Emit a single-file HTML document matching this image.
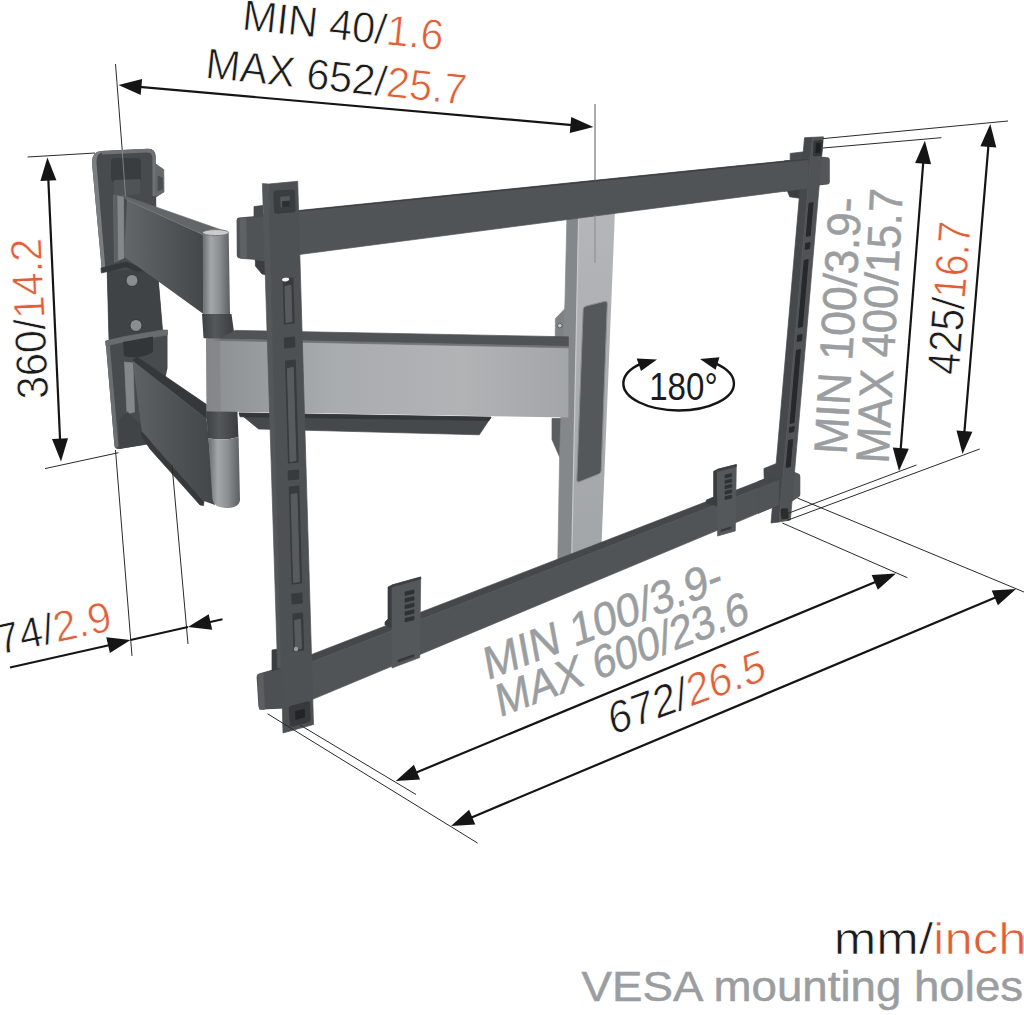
<!DOCTYPE html>
<html lang="en">
<head>
<meta charset="utf-8">
<title>TV wall mount dimensions</title>
<style>
html,body{margin:0;padding:0;background:#fff;}
body{width:1024px;height:1015px;overflow:hidden;font-family:"Liberation Sans",sans-serif;}
svg{display:block;}
text{font-family:"Liberation Sans",sans-serif;}
.k,.o{stroke:#fff;stroke-width:0.7px;}
.k,.kb{fill:#1b1b1b;}
.o{fill:#df6038;}
.g{fill:#9b9ea1;stroke:#9b9ea1;stroke-width:0.5px;}
.ext{stroke:#2a2a2a;stroke-width:1;fill:none;}
.dim{stroke:#151515;stroke-width:2.2;fill:none;}
.ah{fill:#151515;}
</style>
</head>
<body>
<svg width="1024" height="1015" viewBox="0 0 1024 1015">
<defs>
<linearGradient id="gArm" x1="0" y1="0" x2="1" y2="0">
<stop offset="0" stop-color="#8c8f92"/><stop offset="0.35" stop-color="#a9acae"/><stop offset="0.7" stop-color="#b1b3b5"/><stop offset="1" stop-color="#a3a6a8"/>
</linearGradient>
<linearGradient id="gCyl" x1="0" y1="0" x2="1" y2="0">
<stop offset="0" stop-color="#6a6d70"/><stop offset="0.3" stop-color="#a4a7a9"/><stop offset="0.6" stop-color="#8e9193"/><stop offset="1" stop-color="#5c5f62"/>
</linearGradient>
<linearGradient id="gCol" x1="0" y1="0" x2="1" y2="0">
<stop offset="0" stop-color="#3e4144"/><stop offset="0.4" stop-color="#55585b"/><stop offset="1" stop-color="#3a3d40"/>
</linearGradient>
<linearGradient id="gColF" x1="0" y1="0" x2="0" y2="1">
<stop offset="0" stop-color="#b4b6b8"/><stop offset="1" stop-color="#a2a5a7"/>
</linearGradient>
<linearGradient id="gUA" gradientUnits="userSpaceOnUse" x1="124" y1="0" x2="204" y2="0">
<stop offset="0" stop-color="#64676a"/><stop offset="0.5" stop-color="#54575a"/><stop offset="1" stop-color="#44474a"/>
</linearGradient>
<linearGradient id="gLA" gradientUnits="userSpaceOnUse" x1="132" y1="0" x2="214" y2="0">
<stop offset="0" stop-color="#5f6265"/><stop offset="0.5" stop-color="#505356"/><stop offset="1" stop-color="#434649"/>
</linearGradient>
</defs>
<rect width="1024" height="1015" fill="#fff"/>

<!-- GEOMETRY -->
<g id="geom">
<path d="M92,163 Q91.5,152 101,151 L148,148.8 Q155,148.6 155.6,156 L157,262 L162.5,330 L167.5,330 L167.5,368 L151,443.6 L119,449 Q115,449.6 114.4,445 L105.6,341 L109,340 L107.2,271.5 L102,272 Z" fill="#484b4e"/>
<path d="M92,163 Q91.5,152 101,151 L104,151.5 Q96,153 96.5,163 L105.6,271.6 L102,272 Z" fill="#7b7e81"/>
<path d="M105.6,341 L109.4,340.4 L118.5,446 L115.5,448.5 Q114.5,448 114.4,445 Z" fill="#6c6f72"/>
<polygon points="107.2,271.5 157.2,268.0 162.5,330.0 109.0,340.0" fill="#404346" stroke="#404346" stroke-width="0.7" stroke-linejoin="round"/>
<path d="M101,151 L148,148.8 Q155,148.6 155.6,156 L155.8,196 L152.6,196 L152.4,158 Q152,152.5 147,152.6 L102,154.4 Z" fill="#6f7275"/>
<polygon points="155.8,164.0 163.8,169.5 164.0,192.0 156.0,197.0" fill="#66696c" stroke="#66696c" stroke-width="0.7" stroke-linejoin="round"/>
<polygon points="158.0,176.0 162.5,178.0 162.6,189.0 158.0,191.0" fill="#4a4d50" stroke="#4a4d50" stroke-width="0.7" stroke-linejoin="round"/>
<rect x="111" y="158" width="30" height="24" rx="4" fill="#3a3d40"/>
<path d="M114,180 L140,179 L140,193 Q127,198 114,194 Z" fill="#505356"/>
<polygon points="113.8,195.0 123.5,197.0 124.0,258.0 114.6,262.0" fill="#85888b" stroke="#85888b" stroke-width="0.7" stroke-linejoin="round"/>
<polygon points="113.8,195.0 117.0,195.6 117.8,261.0 114.6,262.0" fill="#5e6164" stroke="#5e6164" stroke-width="0.7" stroke-linejoin="round"/>
<polygon points="101.0,268.0 126.0,262.0 137.0,266.0 157.2,266.0 157.4,271.0 136.0,271.0 126.0,267.0 101.4,273.0" fill="#35383a" stroke="#35383a" stroke-width="0.7" stroke-linejoin="round"/>
<circle cx="132" cy="280.5" r="6" fill="#8b8e90"/><circle cx="132" cy="280.5" r="6" fill="none" stroke="#35383a" stroke-width="1"/>
<circle cx="136" cy="325.5" r="6" fill="#8b8e90"/><circle cx="136" cy="325.5" r="6" fill="none" stroke="#35383a" stroke-width="1"/>
<polygon points="105.6,341.0 122.0,337.0 162.6,330.0 167.5,330.0 167.5,335.0 123.0,342.0 106.0,346.0" fill="#696c6f" stroke="#696c6f" stroke-width="0.7" stroke-linejoin="round"/>
<path d="M123,342 L153,336.5 L153,352 Q140,360 124,356 Z" fill="#333638"/>
<polygon points="124.5,362.0 133.0,363.0 134.5,412.0 127.0,414.0" fill="#85888b" stroke="#85888b" stroke-width="0.7" stroke-linejoin="round"/>
<polygon points="127.5,412.0 142.0,426.0 150.6,443.6 120.0,448.4 119.0,420.0" fill="#414447" stroke="#414447" stroke-width="0.7" stroke-linejoin="round"/>
<polygon points="137.0,357.0 206.6,404.5 206.6,419.0 132.5,360.4" fill="#35383b" stroke="#35383b" stroke-width="0.7" stroke-linejoin="round"/>
<polygon points="132.5,360.4 206.6,418.7 215.0,505.0 204.0,501.0 142.0,432.0" fill="url(#gLA)" />
<polygon points="142.0,432.0 204.0,501.0 203.5,505.5 200.0,505.0 150.0,449.0 141.5,436.0" fill="#36393c" stroke="#36393c" stroke-width="0.7" stroke-linejoin="round"/>
<polygon points="121.5,195.0 225.6,231.4 203.5,235.0 127.0,200.0" fill="#636669" stroke="#636669" stroke-width="0.7" stroke-linejoin="round"/>
<polygon points="127.0,200.0 203.5,234.6 203.5,314.0 137.0,266.0 124.0,257.0" fill="url(#gUA)" />
<polyline points="127,200 203.5,234.8" stroke="#777a7d" stroke-width="1" fill="none"/>
<path d="M202.7,233 L228.7,233 L230,314 L203.2,314 Z" fill="url(#gCyl)"/>
<ellipse cx="215.7" cy="232.6" rx="13" ry="3" fill="#c9cbcd"/>
<ellipse cx="215.7" cy="232.6" rx="13" ry="3" fill="none" stroke="#6a6d70" stroke-width="0.8"/>
<path d="M202,314 L231.5,314 L234.5,336 Q219,342 203.5,338 Z" fill="url(#gCol)"/>
<path d="M206.6,411 L237.4,411 L238.4,437 Q223,441.5 207.6,438 Z" fill="url(#gCol)"/>
<path d="M208.4,438 Q223,441.5 238.6,437 L240,500 Q239,508 226,508 Q213.5,507.5 212.4,499 Z" fill="url(#gCyl)"/>
<polygon points="566.6,307.0 555.4,318.5 555.2,340.0 567.6,341.0" fill="#7f8285" stroke="#7f8285" stroke-width="0.7" stroke-linejoin="round"/>
<circle cx="559.8" cy="325.6" r="2.3" fill="#c4c6c8" stroke="#4a4d50" stroke-width="0.8"/>
<polygon points="552.0,418.5 568.0,418.5 568.0,460.0 559.6,457.0 552.0,439.6" fill="#5b5e61" stroke="#5b5e61" stroke-width="0.7" stroke-linejoin="round"/>
<polygon points="567.0,214.0 578.6,212.0 571.8,560.0 557.8,560.0 559.6,457.0 565.0,300.0" fill="#85888b" stroke="#85888b" stroke-width="0.7" stroke-linejoin="round"/>
<polygon points="239.0,413.0 491.0,417.2 479.3,434.8 258.6,429.0" fill="#46494c" stroke="#46494c" stroke-width="0.7" stroke-linejoin="round"/>
<polygon points="239.0,413.0 491.0,417.2 489.0,420.5 240.0,416.8" fill="#34373a" stroke="#34373a" stroke-width="0.7" stroke-linejoin="round"/>
<path d="M206,338.5 L568.4,346 L568.4,417.6 L206.6,411.3 Z" fill="url(#gArm)"/>
<polygon points="235.0,330.4 568.4,336.8 568.4,346.4 219.5,339.0" fill="#505356" stroke="#505356" stroke-width="0.7" stroke-linejoin="round"/>
<polygon points="219.5,339.0 568.4,346.4 568.4,347.8 214.0,340.4" fill="#707376" stroke="#707376" stroke-width="0.7" stroke-linejoin="round"/>
<path d="M206,338.5 L220,338.8 L220.6,411.6 L206.6,411.3 Z" fill="#7d8083" opacity="0.55"/>
<polygon points="578.6,210.0 615.2,206.0 601.4,548.0 571.6,562.0" fill="url(#gColF)" />
<polyline points="578.6,218 571.7,560" stroke="#c6c8ca" stroke-width="1.2" fill="none"/>
<path d="M586.2,306 L604.6,301.4 Q607.4,300.8 607.3,303.6 L601.2,470.6 Q601.1,473.4 598.4,474.2 L579.4,481.8 Q576.6,482.8 576.8,480 L583.2,309 Q583.3,306.8 586.2,306 Z" fill="#55585b" stroke="#8b8e91" stroke-width="1"/>
<polygon points="255.0,214.9 808.0,158.6 808.0,188.2 255.0,260.3" fill="#505457" stroke="#505457" stroke-width="0.7" stroke-linejoin="round"/>
<polyline points="298,211.1 808,159.2" stroke="#3e4144" stroke-width="1.4" fill="none"/>
<polygon points="300.0,659.0 778.0,473.9 778.0,480.6 300.0,666.4" fill="#45484b" stroke="#45484b" stroke-width="0.7" stroke-linejoin="round"/>
<polygon points="300.0,666.4 778.0,480.6 778.0,505.0 300.0,704.6" fill="#505457" stroke="#505457" stroke-width="0.7" stroke-linejoin="round"/>
<polygon points="388.0,587.0 392.0,585.0 392.0,628.0 385.0,625.0 385.0,622.0 388.0,619.0" fill="#3a3d40" stroke="#3a3d40" stroke-width="0.7" stroke-linejoin="round"/><polygon points="392.0,585.0 420.7,577.0 419.7,657.6 392.0,668.0" fill="#55585b" stroke="#55585b" stroke-width="0.7" stroke-linejoin="round"/><polygon points="392.0,585.0 420.7,577.0 420.7,579.0 392.0,587.0" fill="#3d4043" stroke="#3d4043" stroke-width="0.7" stroke-linejoin="round"/>
<polygon points="405.0,592.0 414.0,589.8 414.0,593.4 405.0,595.6" fill="#2f3235" stroke="#2f3235" stroke-width="0.7" stroke-linejoin="round"/>
<polygon points="405.0,598.6 414.0,596.4 414.0,600.0 405.0,602.2" fill="#2f3235" stroke="#2f3235" stroke-width="0.7" stroke-linejoin="round"/>
<polygon points="405.0,605.2 414.0,603.0 414.0,606.6 405.0,608.8" fill="#2f3235" stroke="#2f3235" stroke-width="0.7" stroke-linejoin="round"/>
<polygon points="405.0,611.8 414.0,609.6 414.0,613.2 405.0,615.4" fill="#2f3235" stroke="#2f3235" stroke-width="0.7" stroke-linejoin="round"/>
<polygon points="405.0,618.4 414.0,616.2 414.0,619.8 405.0,622.0" fill="#2f3235" stroke="#2f3235" stroke-width="0.7" stroke-linejoin="round"/>
<polygon points="398.0,660.0 414.0,654.6 414.0,656.6 398.0,662.0" fill="#35383b" stroke="#35383b" stroke-width="0.7" stroke-linejoin="round"/>
<polygon points="713.6,471.3 717.6,469.3 717.6,506.0 706.4,503.0 706.4,500.0 713.6,497.0" fill="#3a3d40" stroke="#3a3d40" stroke-width="0.7" stroke-linejoin="round"/><polygon points="717.6,469.3 736.3,464.6 735.3,530.9 717.6,536.0" fill="#55585b" stroke="#55585b" stroke-width="0.7" stroke-linejoin="round"/><polygon points="717.6,469.3 736.3,464.6 736.3,466.6 717.6,471.3" fill="#3d4043" stroke="#3d4043" stroke-width="0.7" stroke-linejoin="round"/>
<polygon points="725.0,475.0 731.7,473.5 731.7,476.5 725.0,478.0" fill="#2f3235" stroke="#2f3235" stroke-width="0.7" stroke-linejoin="round"/>
<polygon points="725.0,480.4 731.7,478.9 731.7,481.9 725.0,483.4" fill="#2f3235" stroke="#2f3235" stroke-width="0.7" stroke-linejoin="round"/>
<polygon points="725.0,485.8 731.7,484.3 731.7,487.3 725.0,488.8" fill="#2f3235" stroke="#2f3235" stroke-width="0.7" stroke-linejoin="round"/>
<polygon points="725.0,491.2 731.7,489.7 731.7,492.7 725.0,494.2" fill="#2f3235" stroke="#2f3235" stroke-width="0.7" stroke-linejoin="round"/>
<polygon points="725.0,496.6 731.7,495.1 731.7,498.1 725.0,499.6" fill="#2f3235" stroke="#2f3235" stroke-width="0.7" stroke-linejoin="round"/>
<polygon points="721.0,530.0 731.0,526.8 731.0,528.4 721.0,531.6" fill="#35383b" stroke="#35383b" stroke-width="0.7" stroke-linejoin="round"/>
<path d="M239,217.6 L269,214.8 L270.4,261.4 L240.6,258.6 Q236.8,258.2 236.8,255 L236.6,220.4 Q236.6,217.9 239,217.6 Z" fill="#505356"/>
<polygon points="240.0,219.0 246.0,218.4 246.6,258.8 240.6,258.2" fill="#5f6265" stroke="#5f6265" stroke-width="0.7" stroke-linejoin="round"/>
<polygon points="254.0,206.6 263.0,205.4 263.0,216.0 254.0,217.0" fill="#484b4e" stroke="#484b4e" stroke-width="0.7" stroke-linejoin="round"/>
<polygon points="255.4,260.0 271.0,261.6 272.0,276.0 262.0,274.0 255.4,266.0" fill="#3b3e41" stroke="#3b3e41" stroke-width="0.7" stroke-linejoin="round"/>
<path d="M259,673.4 L285,666 L285.4,708.4 L262,709.6 Q258.6,709.6 258.4,706 L256.6,677 Q256.6,674.2 259,673.4 Z" fill="#4d5053"/>
<polygon points="272.0,650.0 284.5,648.0 285.0,667.0 272.0,671.0" fill="#3b3e41" stroke="#3b3e41" stroke-width="0.7" stroke-linejoin="round"/>
<polygon points="258.0,675.0 263.0,673.6 264.6,709.4 259.6,709.4" fill="#5c5f62" stroke="#5c5f62" stroke-width="0.7" stroke-linejoin="round"/>
<polygon points="262.4,183.6 268.7,184.0 282.7,668.0 277.6,668.0" fill="#54575a" stroke="#54575a" stroke-width="0.7" stroke-linejoin="round"/>
<polygon points="268.7,184.0 297.7,181.3 313.5,724.5 283.0,733.0" fill="#4e5154" stroke="#4e5154" stroke-width="0.7" stroke-linejoin="round"/>
<path d="M276,190.6 L292,189.4 Q295,189.2 295.1,192 L295.6,209.6 Q295.7,212.4 292.8,212.6 L277.2,213.8 Q274.2,214 274.1,211.2 L273.3,193.6 Q273.2,190.8 276,190.6 Z" fill="#3a3d40"/>
<polygon points="280.6,197.0 289.4,196.4 289.8,206.4 281.0,207.0" fill="#55585b" stroke="#55585b" stroke-width="0.7" stroke-linejoin="round"/>
<polygon points="282.4,201.6 289.6,201.0 289.8,206.4 282.6,207.0" fill="#2d3032" stroke="#2d3032" stroke-width="0.7" stroke-linejoin="round"/>
<polygon points="283.7,279.6 292.4,278.4 293.7,322.4 284.9,323.6" fill="#383b3e" stroke="#383b3e" stroke-width="2" stroke-linejoin="round"/>
<polygon points="284.8,338.6 294.1,337.4 294.4,346.4 285.1,347.6" fill="#383b3e" stroke="#383b3e" stroke-width="2" stroke-linejoin="round"/>
<polygon points="286.0,361.6 294.8,360.4 297.7,461.4 289.0,462.6" fill="#383b3e" stroke="#383b3e" stroke-width="2" stroke-linejoin="round"/>
<polygon points="288.6,471.6 298.0,470.4 298.2,478.4 288.9,479.6" fill="#383b3e" stroke="#383b3e" stroke-width="2" stroke-linejoin="round"/>
<polygon points="289.7,487.6 298.4,486.4 301.2,582.4 292.5,583.6" fill="#383b3e" stroke="#383b3e" stroke-width="2" stroke-linejoin="round"/>
<polygon points="292.2,594.6 301.5,593.4 301.8,602.4 292.5,603.6" fill="#383b3e" stroke="#383b3e" stroke-width="2" stroke-linejoin="round"/>
<polygon points="293.4,614.6 302.1,613.4 303.2,649.4 294.4,650.6" fill="#383b3e" stroke="#383b3e" stroke-width="2" stroke-linejoin="round"/>
<polygon points="285.0,286.6 290.9,285.4 291.9,321.4 286.1,322.6" fill="#585b5e" stroke="#585b5e" stroke-width="1" stroke-linejoin="round"/>
<polygon points="287.4,368.6 293.2,367.4 295.9,460.4 290.1,461.6" fill="#585b5e" stroke="#585b5e" stroke-width="1" stroke-linejoin="round"/>
<polygon points="291.1,494.6 296.9,493.4 299.4,581.4 293.6,582.6" fill="#585b5e" stroke="#585b5e" stroke-width="1" stroke-linejoin="round"/>
<polygon points="294.7,620.6 300.5,619.4 301.4,648.4 295.6,649.6" fill="#585b5e" stroke="#585b5e" stroke-width="1" stroke-linejoin="round"/>
<ellipse cx="285.6" cy="279.6" rx="3.6" ry="1.8" fill="#f4f4f4" transform="rotate(-8 285.6 279.6)"/>
<circle cx="296" cy="649" r="2.2" fill="#9a9da0"/>
<path d="M291.6,705.4 L307,701.4 Q309.9,700.7 310,703.6 L310.8,719 Q310.9,721.6 308.2,722.4 L293,726.6 Q290,727.4 289.8,724.4 L288.8,709 Q288.7,706.2 291.6,705.4 Z" fill="#37393c"/>
<polygon points="295.4,711.4 304.4,709.0 304.8,717.0 295.8,719.6" fill="#222426" stroke="#222426" stroke-width="0.7" stroke-linejoin="round"/>
<polygon points="790.2,153.4 806.0,151.6 806.0,162.0 790.2,164.0" fill="#484b4e" stroke="#484b4e" stroke-width="0.7" stroke-linejoin="round"/>
<polygon points="787.2,190.6 806.0,188.0 805.0,199.0 789.7,196.8" fill="#3b3e41" stroke="#3b3e41" stroke-width="0.7" stroke-linejoin="round"/>
<path d="M819,156.4 L827.6,157.2 Q829.8,157.4 829.8,159.6 L829.8,182 Q829.8,184.2 827.6,184.4 L816,185.8 Z" fill="#54575a"/>
<polygon points="763.9,468.6 776.6,463.4 778.0,486.0 764.4,489.0" fill="#46494c" stroke="#46494c" stroke-width="0.7" stroke-linejoin="round"/>
<path d="M792,471 L798.4,473.4 Q800.3,474.2 800.3,476.2 L800.3,494.4 Q800.3,496.4 798.4,497.2 L789,503.6 Z" fill="#54575a"/>
<polygon points="804.5,137.7 812.4,137.3 779.0,522.0 771.0,523.0" fill="#46494c" stroke="#46494c" stroke-width="0.7" stroke-linejoin="round"/>
<polygon points="812.4,137.3 823.4,136.8 790.4,520.0 779.0,522.0" fill="#505356" stroke="#505356" stroke-width="0.7" stroke-linejoin="round"/>
<path d="M815.4,140.4 L821.4,140 Q823.2,140 823.1,141.8 L822,154 Q821.9,155.8 820,156 L814.6,156.4 Q812.8,156.5 812.9,154.6 L813.6,142.2 Q813.7,140.5 815.4,140.4 Z" fill="#35383a"/>
<polygon points="816.4,143.4 820.6,143.2 820.0,152.6 815.8,153.0" fill="#1d1f20" stroke="#1d1f20" stroke-width="0.7" stroke-linejoin="round"/>
<polygon points="809.1,203.4 813.1,202.6 810.2,235.6 806.3,236.4" fill="#26282a" stroke="#26282a" stroke-width="1" stroke-linejoin="round"/>
<polygon points="805.6,243.4 810.1,242.6 809.5,248.6 805.1,249.4" fill="#26282a" stroke="#26282a" stroke-width="1" stroke-linejoin="round"/>
<polygon points="804.2,260.4 808.2,259.6 802.4,326.6 798.4,327.4" fill="#26282a" stroke="#26282a" stroke-width="1" stroke-linejoin="round"/>
<polygon points="797.7,335.4 802.1,334.6 801.6,340.6 797.2,341.4" fill="#26282a" stroke="#26282a" stroke-width="1" stroke-linejoin="round"/>
<polygon points="796.4,350.4 800.4,349.6 794.1,422.6 790.1,423.4" fill="#26282a" stroke="#26282a" stroke-width="1" stroke-linejoin="round"/>
<polygon points="789.7,427.4 794.2,426.6 793.7,431.6 789.3,432.4" fill="#26282a" stroke="#26282a" stroke-width="1" stroke-linejoin="round"/>
<polygon points="788.6,440.4 792.6,439.6 790.3,466.6 786.2,467.4" fill="#26282a" stroke="#26282a" stroke-width="1" stroke-linejoin="round"/>
<rect x="781" y="508.4" width="7.4" height="10.6" rx="1.6" fill="#2a2c2e" transform="rotate(-4 785 514)"/>
<polygon points="784.0,161.0 808.4,158.6 808.4,188.1 784.0,191.3" fill="#505457" stroke="#505457" stroke-width="0.7" stroke-linejoin="round"/>
<polyline points="784,161.6 808.4,159.2" stroke="#3e4144" stroke-width="1.4" fill="none"/>
<polygon points="758.0,481.6 772.5,476.0 778.5,480.4 758.0,488.4" fill="#45484b" stroke="#45484b" stroke-width="0.7" stroke-linejoin="round"/>
<polygon points="758.0,488.4 778.5,480.4 778.5,504.8 758.0,513.4" fill="#505457" stroke="#505457" stroke-width="0.7" stroke-linejoin="round"/>
</g>

<!-- DIMENSIONS -->
<g id="dims">
<line x1="115.5" y1="64" x2="122.2" y2="150" class="ext"/>
<line x1="122.2" y1="150" x2="125.5" y2="196" stroke="#8d9093" stroke-width="0.8"/>
<line x1="595" y1="104" x2="595" y2="181" stroke="#55585b" stroke-width="1"/>
<line x1="595" y1="215" x2="595" y2="263" stroke="#85888b" stroke-width="0.9"/>
<line x1="139.4" y1="86.9" x2="572.5" y2="125.1" class="dim"/><polygon points="118.5,85.0 142.1,79.1 140.7,95.0" fill="#151515" /><polygon points="593.4,127.0 569.8,132.9 571.2,117.0" fill="#151515" />
<line x1="27.7" y1="157" x2="95" y2="153" class="ext"/>
<line x1="45" y1="468.6" x2="118.5" y2="452.7" class="ext"/>
<line x1="48.3" y1="178.6" x2="60.1" y2="440.5" class="dim"/><polygon points="47.4,157.6 56.4,180.2 40.4,180.9" fill="#151515" /><polygon points="61.0,461.5 52.0,438.9 68.0,438.2" fill="#151515" />
<line x1="115.5" y1="450" x2="132" y2="656" class="ext"/>
<line x1="172" y1="465" x2="188" y2="644" class="ext"/>
<line x1="10" y1="667.5" x2="110" y2="645" class="dim"/>
<polygon points="130.5,640.0 109.9,652.9 106.3,637.3" fill="#151515" />
<line x1="130.5" y1="640" x2="188" y2="627" class="dim"/>
<polygon points="188.0,627.0 208.7,614.2 212.2,629.8" fill="#151515" />
<line x1="208" y1="622.5" x2="222.5" y2="619.3" class="dim"/>
<line x1="823" y1="138.6" x2="1008" y2="121" class="ext"/>
<line x1="823" y1="148" x2="941.4" y2="137.7" class="ext"/>
<line x1="786.8" y1="513.8" x2="916.4" y2="465" class="ext"/>
<line x1="786.8" y1="520.5" x2="979.7" y2="449" class="ext"/>
<line x1="923.3" y1="161.6" x2="900.6" y2="450.1" class="dim"/><polygon points="924.9,140.7 931.1,164.3 915.1,163.0" fill="#151515" /><polygon points="899.0,471.0 892.8,447.4 908.8,448.7" fill="#151515" />
<line x1="988.5" y1="144.9" x2="964.3" y2="433.1" class="dim"/><polygon points="990.3,124.0 996.3,147.6 980.4,146.2" fill="#151515" /><polygon points="962.5,454.0 956.5,430.4 972.4,431.8" fill="#151515" />
<line x1="797.4" y1="498" x2="1024" y2="592" class="ext"/>
<line x1="782.3" y1="523" x2="907.4" y2="577.7" class="ext"/>
<line x1="267.5" y1="713.75" x2="477.5" y2="843" class="ext"/>
<line x1="300" y1="725" x2="416" y2="794.5" class="ext"/>
<line x1="415.1" y1="773.0" x2="876.6" y2="581.5" class="dim"/><polygon points="395.8,781.0 413.9,764.8 420.1,779.6" fill="#151515" /><polygon points="896.0,573.5 877.8,589.7 871.7,574.9" fill="#151515" />
<line x1="470.4" y1="817.9" x2="996.6" y2="597.1" class="dim"/><polygon points="451.0,826.0 469.1,809.7 475.3,824.5" fill="#151515" /><polygon points="1016.0,589.0 997.9,605.3 991.7,590.5" fill="#151515" />
<path d="M641,363.7 A55.3,27 0 1 0 716.5,363.8" fill="none" stroke="#151515" stroke-width="2.4"/>
<polygon points="636.7,358.4 657.0,359.4 641.0,371.0" fill="#151515" />
<polygon points="700.0,359.0 719.5,357.3 715.6,369.8" fill="#151515" />
</g>

<!-- TEXT -->
<g id="labels">
<text transform="translate(241.2,29.6) rotate(5.9)" font-size="43" text-anchor="start" textLength="202" lengthAdjust="spacingAndGlyphs"><tspan class="k">MIN 40/</tspan><tspan class="o">1.6</tspan></text>
<text transform="translate(204.6,77.8) rotate(5.9)" font-size="43" text-anchor="start" textLength="262" lengthAdjust="spacingAndGlyphs"><tspan class="k">MAX 652/</tspan><tspan class="o">25.7</tspan></text>
<text transform="translate(48.3,398.5) rotate(-92.6)" font-size="44" text-anchor="start" textLength="161" lengthAdjust="spacingAndGlyphs"><tspan class="k">360/</tspan><tspan class="o">14.2</tspan></text>
<text transform="translate(-0.5,654.8) rotate(-12.2)" font-size="43" text-anchor="start" textLength="117" lengthAdjust="spacingAndGlyphs"><tspan class="k">74/</tspan><tspan class="o">2.9</tspan></text>
<text transform="translate(846.4,455) rotate(-86.6)" font-size="47" text-anchor="start" textLength="257" lengthAdjust="spacingAndGlyphs"><tspan class="g">MIN 100/3.9-</tspan></text>
<text transform="translate(888.4,464) rotate(-87)" font-size="47" text-anchor="start" textLength="275" lengthAdjust="spacingAndGlyphs"><tspan class="g">MAX 400/15.7</tspan></text>
<text transform="translate(958.8,375.4) rotate(-85.4)" font-size="46" text-anchor="start" textLength="153" lengthAdjust="spacingAndGlyphs"><tspan class="k">425/</tspan><tspan class="o">16.7</tspan></text>
<text transform="matrix(0.9342,-0.3567,0.1822,0.9833,487,680.4)" font-size="46" text-anchor="start" textLength="254" lengthAdjust="spacingAndGlyphs"><tspan class="g">MIN 100/3.9-</tspan></text>
<text transform="matrix(0.9342,-0.3567,0.1822,0.9833,499.2,717.6)" font-size="46" text-anchor="start" textLength="269" lengthAdjust="spacingAndGlyphs"><tspan class="g">MAX 600/23.6</tspan></text>
<text transform="matrix(0.9403,-0.3404,0.1736,0.9848,611.4,735.6)" font-size="45" text-anchor="start" textLength="166" lengthAdjust="spacingAndGlyphs"><tspan class="k">672/</tspan><tspan class="o">26.5</tspan></text>
<text transform="translate(649.2,400.3) rotate(0)" font-size="38.5" text-anchor="start" textLength="68.5" lengthAdjust="spacingAndGlyphs"><tspan class="kb">180°</tspan></text>
<text transform="translate(833.8,953.5) rotate(0)" font-size="43.5" text-anchor="start" textLength="193" lengthAdjust="spacingAndGlyphs"><tspan class="k">mm/</tspan><tspan class="o">inch</tspan></text>
<text transform="translate(581.6,1000.6) rotate(0)" font-size="43" text-anchor="start" textLength="441.5" lengthAdjust="spacingAndGlyphs"><tspan class="g">VESA mounting holes</tspan></text>
</g>
</svg>
</body>
</html>
